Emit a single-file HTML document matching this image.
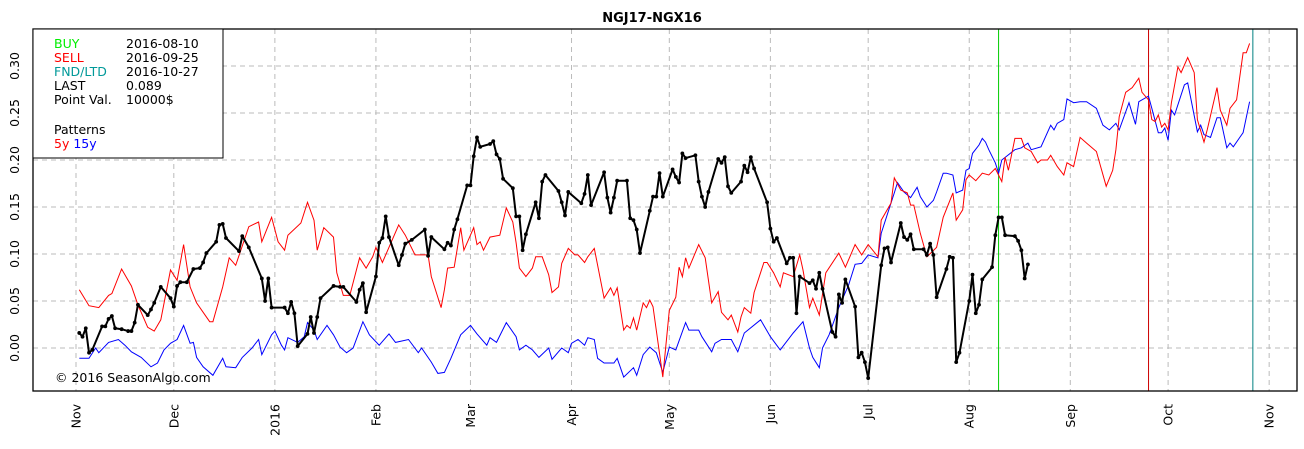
<!DOCTYPE html>
<html><head><meta charset="utf-8"><style>
body{margin:0;background:#fff;}
svg{display:block;font-family:"DejaVu Sans","Liberation Sans",sans-serif;}
</style></head><body>
<svg id="chart" width="1304" height="449" viewBox="0 0 1304 449" xmlns="http://www.w3.org/2000/svg">
<rect x="0" y="0" width="1304" height="449" fill="#fff"/>
<text x="652" y="22" text-anchor="middle" font-size="13" font-weight="bold">NGJ17-NGX16</text>
<g id="grid"></g>
<g id="series"></g>
<rect x="33" y="29" width="1264" height="362" fill="none" stroke="#000" stroke-width="1.3"/>
<g id="axes"></g>
<g>
<rect x="33" y="29" width="190" height="129" fill="#fff" stroke="#000" stroke-width="1"/>
<g font-size="12.5">
<text x="54" y="48" fill="#00ee00">BUY</text>
<text x="126" y="48">2016-08-10</text>
<text x="54" y="62" fill="#ff0000">SELL</text>
<text x="126" y="62">2016-09-25</text>
<text x="54" y="76" fill="#009999">FND/LTD</text>
<text x="126" y="76">2016-10-27</text>
<text x="54" y="90">LAST</text>
<text x="126" y="90">0.089</text>
<text x="54" y="104">Point Val.</text>
<text x="126" y="104">10000$</text>
<text x="54" y="134">Patterns</text>
<text x="54" y="148"><tspan fill="#ff0000">5y</tspan> <tspan fill="#0000ff">15y</tspan></text>
</g></g>
<text x="55" y="382" font-size="12.5">© 2016 SeasonAlgo.com</text>
</svg>
<script>
const monthDays=[0,30,61,92,121,152,182,213,243,274,305,335,366];
const monthLabels=["Nov","Dec","2016","Feb","Mar","Apr","May","Jun","Jul","Aug","Sep","Oct","Nov"];
const yTicks=[0,0.05,0.10,0.15,0.20,0.25,0.30];
const yTickLabels=["0.00","0.05","0.10","0.15","0.20","0.25","0.30"];
const markerDays=[283,329,361];
const markerColors=["#00cc00","#cc0000","#008080"];

const lastDays=[1,2,3,4,5,8,9,10,11,12,14,16,17,18,19,22,23,24,26,29,30,31,32,34,36,38,39,40,43,44,45,46,50,51,53,57,58,59,60,64,65,66,67,68,71,72,73,74,75,79,81,82,86,87,88,89,92,93,94,95,96,99,100,101,103,107,108,109,113,114,115,116,117,120,121,122,123,124,127,128,129,130,131,134,135,136,137,138,141,142,143,144,148,149,150,151,155,156,157,158,162,163,164,165,166,169,170,171,172,173,176,177,178,179,180,183,184,185,186,187,190,191,192,193,194,197,198,199,200,201,204,205,206,207,208,212,213,214,215,218,219,220,221,222,225,226,227,228,229,232,233,234,235,236,239,240,241,242,243,247,248,249,250,253,254,255,256,257,260,261,262,263,264,267,268,269,270,271,274,275,276,277,278,281,282,283,284,285,288,289,290,291,292];
const lastValues=[0.016,0.012,0.021,-0.005,-0.002,0.023,0.023,0.031,0.034,0.021,0.020,0.018,0.018,0.027,0.046,0.035,0.041,0.048,0.065,0.053,0.044,0.066,0.070,0.070,0.084,0.085,0.091,0.101,0.113,0.131,0.132,0.117,0.103,0.119,0.107,0.074,0.050,0.074,0.043,0.043,0.037,0.049,0.037,0.002,0.015,0.033,0.016,0.033,0.053,0.066,0.065,0.065,0.049,0.062,0.069,0.038,0.076,0.112,0.117,0.140,0.118,0.088,0.099,0.111,0.115,0.126,0.098,0.118,0.105,0.112,0.109,0.126,0.137,0.173,0.173,0.204,0.224,0.214,0.217,0.220,0.206,0.201,0.180,0.170,0.140,0.140,0.104,0.121,0.155,0.138,0.177,0.184,0.167,0.155,0.141,0.166,0.154,0.164,0.184,0.152,0.187,0.160,0.144,0.160,0.178,0.178,0.138,0.136,0.126,0.101,0.146,0.161,0.161,0.186,0.161,0.190,0.182,0.176,0.207,0.202,0.205,0.177,0.161,0.150,0.166,0.201,0.197,0.203,0.172,0.165,0.177,0.194,0.187,0.203,0.191,0.155,0.127,0.113,0.117,0.090,0.096,0.096,0.037,0.076,0.069,0.072,0.063,0.080,0.063,0.017,0.012,0.057,0.048,0.073,0.044,-0.010,-0.005,-0.015,-0.032,0.088,0.106,0.107,0.091,0.133,0.118,0.115,0.121,0.105,0.105,0.099,0.111,0.099,0.054,0.084,0.097,0.096,-0.015,-0.005,0.050,0.078,0.037,0.046,0.073,0.086,0.120,0.139,0.139,0.120,0.119,0.114,0.104,0.074,0.089];

const p5Days=[1,4,7,10,11,14,17,19,22,24,26,29,31,33,35,37,41,42,45,47,49,53,56,57,60,62,64,65,69,71,73,74,76,79,80,82,84,87,89,91,92,94,99,101,104,108,109,112,113,114,116,118,119,122,123,124,125,127,130,132,134,135,136,138,140,141,143,145,146,148,149,151,153,154,156,157,159,162,164,165,166,168,169,170,171,172,174,175,176,177,180,182,184,185,186,187,188,191,193,195,197,198,200,201,203,204,205,207,208,211,212,214,216,217,220,222,223,225,226,228,230,234,236,239,241,243,246,247,250,251,253,255,256,257,259,261,264,266,269,270,272,273,274,276,278,280,282,284,285,286,288,290,291,293,295,296,298,299,301,303,304,306,308,310,313,316,318,319,320,322,324,326,327,329,330,331,332,333,334,335,336,338,339,341,343,344,346,347,350,351,353,354,356,358,359,360];
const p5Values=[0.062,0.045,0.043,0.056,0.058,0.084,0.066,0.046,0.022,0.018,0.030,0.083,0.072,0.110,0.065,0.048,0.028,0.028,0.065,0.096,0.088,0.129,0.134,0.113,0.139,0.113,0.104,0.120,0.133,0.155,0.136,0.104,0.128,0.118,0.080,0.056,0.056,0.096,0.085,0.097,0.107,0.091,0.131,0.120,0.099,0.099,0.076,0.043,0.062,0.085,0.086,0.128,0.104,0.128,0.110,0.113,0.104,0.118,0.120,0.149,0.134,0.112,0.085,0.076,0.085,0.097,0.097,0.078,0.059,0.065,0.090,0.106,0.099,0.099,0.091,0.097,0.106,0.053,0.064,0.056,0.064,0.019,0.024,0.021,0.032,0.019,0.048,0.043,0.051,0.044,-0.031,0.040,0.054,0.086,0.076,0.096,0.085,0.110,0.096,0.048,0.060,0.038,0.030,0.035,0.017,0.033,0.043,0.037,0.059,0.091,0.091,0.080,0.065,0.080,0.076,0.099,0.083,0.043,0.053,0.035,0.080,0.101,0.086,0.110,0.099,0.110,0.097,0.136,0.154,0.181,0.168,0.165,0.152,0.152,0.122,0.097,0.107,0.139,0.165,0.136,0.147,0.179,0.184,0.178,0.186,0.184,0.191,0.177,0.203,0.189,0.223,0.223,0.213,0.209,0.197,0.200,0.200,0.205,0.193,0.184,0.197,0.193,0.224,0.218,0.209,0.172,0.189,0.211,0.246,0.272,0.277,0.287,0.272,0.264,0.243,0.241,0.248,0.235,0.239,0.232,0.261,0.299,0.293,0.309,0.293,0.243,0.219,0.232,0.277,0.253,0.237,0.255,0.264,0.314,0.314,0.324];

const p15Days=[1,4,6,7,10,13,15,17,20,23,25,27,29,31,33,35,36,37,39,42,45,46,49,51,54,56,57,60,61,63,64,65,68,70,71,73,74,77,79,81,83,85,88,90,93,96,98,102,105,106,109,111,113,115,118,121,123,126,127,129,132,135,136,138,140,142,145,146,149,151,152,154,156,157,159,160,162,165,166,168,171,172,174,176,178,180,182,184,187,188,191,192,195,196,198,201,203,205,210,213,216,220,223,225,226,228,229,231,234,237,239,241,243,246,247,251,252,254,256,258,259,261,263,264,266,267,269,270,272,273,274,275,277,278,279,280,282,283,284,288,290,292,293,296,299,300,301,303,304,306,308,310,313,315,317,319,320,323,325,326,329,330,332,333,334,335,336,337,340,341,342,344,345,346,348,350,351,353,354,355,357,358,360];
const p15Values=[-0.011,-0.011,0.000,-0.005,0.006,0.009,0.003,-0.004,-0.010,-0.020,-0.016,-0.002,0.005,0.009,0.024,0.005,0.006,-0.010,-0.020,-0.029,-0.011,-0.020,-0.021,-0.010,0.000,0.009,-0.007,0.014,0.018,0.003,-0.002,0.011,0.006,0.012,0.027,0.019,0.009,0.024,0.014,0.001,-0.005,0.000,0.028,0.014,0.003,0.015,0.006,0.009,-0.005,0.000,-0.015,-0.027,-0.026,-0.011,0.014,0.024,0.015,0.003,0.011,0.006,0.027,0.012,-0.002,0.003,-0.002,-0.010,0.000,-0.012,0.000,-0.005,0.005,0.009,0.003,0.011,0.009,-0.011,-0.016,-0.016,-0.011,-0.031,-0.021,-0.029,-0.007,0.001,-0.005,-0.026,0.001,-0.002,0.027,0.019,0.019,0.012,-0.004,0.005,0.009,0.009,-0.004,0.016,0.030,0.012,-0.002,0.016,0.028,0.000,-0.010,-0.021,0.000,0.014,0.043,0.067,0.089,0.090,0.099,0.096,0.122,0.165,0.176,0.166,0.160,0.171,0.161,0.150,0.157,0.166,0.186,0.186,0.184,0.165,0.168,0.189,0.191,0.207,0.216,0.223,0.219,0.211,0.197,0.186,0.200,0.211,0.213,0.218,0.211,0.214,0.237,0.232,0.239,0.243,0.265,0.261,0.262,0.262,0.255,0.237,0.232,0.239,0.232,0.261,0.238,0.262,0.268,0.255,0.229,0.229,0.234,0.221,0.253,0.248,0.280,0.282,0.265,0.230,0.237,0.227,0.224,0.245,0.245,0.213,0.218,0.214,0.224,0.229,0.262];

const NS='http://www.w3.org/2000/svg';
const X0=76, DX=3.26, Y0=348, DY=940;
function xs(d){return X0+d*DX;}
function ys(v){return Y0-v*DY;}
function mk(tag,attrs,parent){const e=document.createElementNS(NS,tag);for(const k in attrs)e.setAttribute(k,attrs[k]);parent.appendChild(e);return e;}
const grid=document.getElementById('grid'), axes=document.getElementById('axes'), ser=document.getElementById('series');

yTicks.forEach((t,i)=>{
  const ln=mk('line',{x1:33,x2:1297,y1:ys(t),y2:ys(t),stroke:'#bbb','stroke-dasharray':'5,4','stroke-width':1},grid);
  
  
  const tx=mk('text',{x:0,y:0,'font-size':12.5,'text-anchor':'middle',transform:`translate(19,${ys(t)}) rotate(-90)`},axes);
  tx.textContent=yTickLabels[i];
  
  
});
monthDays.forEach((d,i)=>{
  const ln=mk('line',{x1:xs(d),x2:xs(d),y1:29,y2:391,stroke:'#bbb','stroke-dasharray':'5,4','stroke-width':1},grid);
  
  
  const tx=mk('text',{x:0,y:0,'font-size':12.5,'text-anchor':'end',transform:`translate(${xs(d)+4.5},404) rotate(-90)`},axes);
  tx.textContent=monthLabels[i];
  
  
});
markerDays.forEach((d,i)=>{
  const ln=mk('line',{x1:xs(d),x2:xs(d),y1:29,y2:391,stroke:markerColors[i],'stroke-width':1},grid);
  
  
});
function line(days,vals,color,w){
  return days.map((d,i)=>xs(d).toFixed(1)+','+ys(vals[i]).toFixed(1)).join(' ');
}
const l15=mk('polyline',{points:line(p15Days,p15Values),fill:'none',stroke:'#0000ff','stroke-width':1},ser);


const l5=mk('polyline',{points:line(p5Days,p5Values),fill:'none',stroke:'#ff0000','stroke-width':1},ser);


const lb=mk('polyline',{points:line(lastDays,lastValues),fill:'none',stroke:'#000','stroke-width':2,'stroke-linejoin':'round'},ser);


lastDays.forEach((d,i)=>{
  const c=mk('circle',{cx:xs(d),cy:ys(lastValues[i]),r:1.9,fill:'#000'},ser);
  
  
});
</script>
</body></html>
